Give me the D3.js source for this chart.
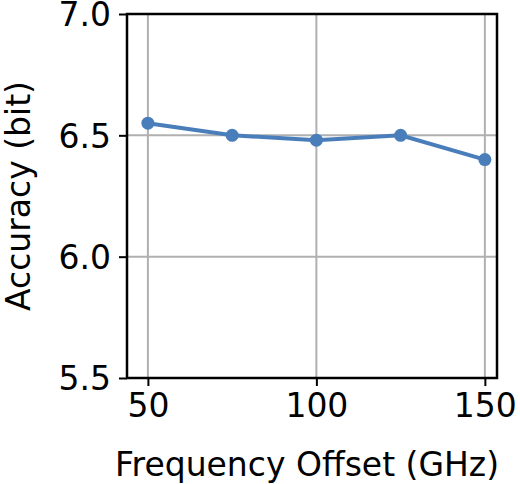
<!DOCTYPE html>
<html>
<head>
<meta charset="utf-8">
<script src="https://cdn.jsdelivr.net/npm/d3@7"></script>
<style>
body { margin: 0; background: #fff; }
text { font-family: "DejaVu Sans", sans-serif; }
</style>
</head>
<body>
<svg id="chart" width="520" height="484"></svg>
<script>
// data
var offsets = [50, 75, 100, 125, 150];
var accuracy = [6.55, 6.50, 6.48, 6.50, 6.40];
var xTicks = [50, 100, 150];
var yTicks = [5.5, 6.0, 6.5, 7.0];

var svg = d3.select("#chart");
var L = 127, R = 497, T = 14, B = 378;

var x = d3.scaleLinear().domain([43.8, 153.6]).range([L, R]);
var y = d3.scaleLinear().domain([5.5, 7.0]).range([B, T]);

// grid
svg.append("g").selectAll("line").data(xTicks).enter().append("line")
    .attr("x1", d => x(d)).attr("x2", d => x(d))
    .attr("y1", T).attr("y2", B)
    .attr("stroke", "#b0b0b0").attr("stroke-width", 2);
svg.append("g").selectAll("line").data(yTicks).enter().append("line")
    .attr("x1", L).attr("x2", R)
    .attr("y1", d => y(d)).attr("y2", d => y(d))
    .attr("stroke", "#b0b0b0").attr("stroke-width", 2);

// axes
var xAxis = d3.axisBottom(x).tickValues(xTicks).tickSize(8).tickPadding(8).tickFormat(d3.format("d"));
var yAxis = d3.axisLeft(y).tickValues(yTicks).tickSize(8).tickPadding(8).tickFormat(d3.format(".1f"));

var gx = svg.append("g").attr("transform", "translate(0," + B + ")").call(xAxis);
var gy = svg.append("g").attr("transform", "translate(" + L + ",0)").call(yAxis);
[gx, gy].forEach(function (g) {
    g.select(".domain").remove();
    g.selectAll("line").attr("stroke", "#000").attr("stroke-width", 2);
    g.selectAll("text").attr("font-size", 33).attr("fill", "#000")
        .style("font-family", "DejaVu Sans, sans-serif");
});
gy.selectAll("text").attr("dy", "0.36em");

// frame
svg.append("rect").attr("x", L).attr("y", T).attr("width", R - L).attr("height", B - T)
    .attr("fill", "none").attr("stroke", "#000").attr("stroke-width", 2.5);

// series
var pts = offsets.map((d, i) => [d, accuracy[i]]);
svg.append("path").datum(pts)
    .attr("d", d3.line().x(d => x(d[0])).y(d => y(d[1])))
    .attr("fill", "none").attr("stroke", "#4a7ebb").attr("stroke-width", 4);
svg.append("g").selectAll("circle").data(pts).enter().append("circle")
    .attr("cx", d => x(d[0])).attr("cy", d => y(d[1])).attr("r", 6.5)
    .attr("fill", "#4a7ebb");

// labels
svg.append("text").attr("x", (L + R) / 2 - 5).attr("y", 476)
    .attr("text-anchor", "middle").attr("font-size", 33).text("Frequency Offset (GHz)");
svg.append("text").attr("transform", "translate(30," + (T + B) / 2 + ") rotate(-90)")
    .attr("text-anchor", "middle").attr("font-size", 33).text("Accuracy (bit)");
</script>
</body>
</html>
